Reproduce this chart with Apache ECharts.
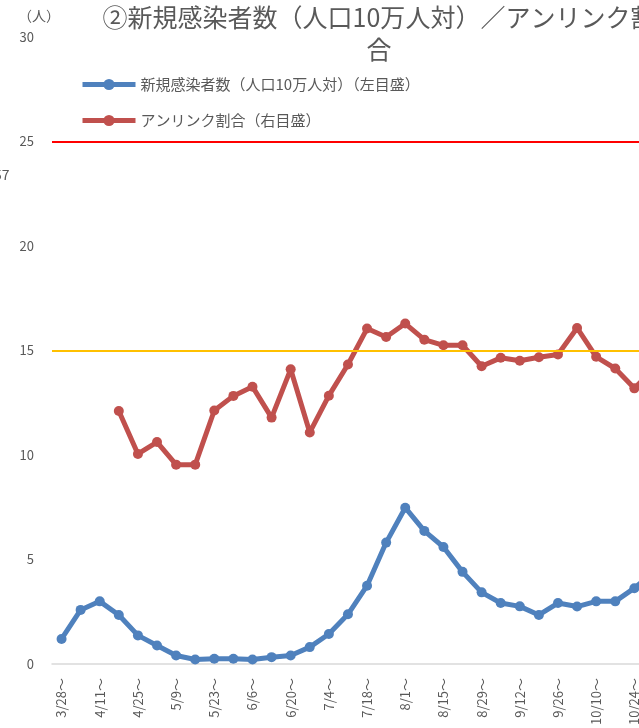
<!DOCTYPE html>
<html>
<head>
<meta charset="utf-8">
<script src="https://cdn.jsdelivr.net/npm/echarts@6/dist/echarts.min.js"></script>
<style>
html,body{margin:0;padding:0;background:#fff;overflow:hidden;width:639px;height:728px;}
#c{width:700px;height:728px;}
</style>
</head>
<body>
<div id="c"></div>
<script>
const categories = ['3/28～','4/4～','4/11～','4/18～','4/25～','5/2～','5/9～','5/16～','5/23～','5/30～','6/6～','6/13～','6/20～','6/27～','7/4～','7/11～','7/18～','7/25～','8/1～','8/8～','8/15～','8/22～','8/29～','9/5～','9/12～','9/19～','9/26～','10/3～','10/10～','10/17～','10/24～','10/31～'];
const newCases = [1.2,2.59,3.0,2.35,1.37,0.89,0.41,0.22,0.25,0.25,0.22,0.33,0.41,0.81,1.44,2.38,3.75,5.81,7.48,6.37,5.6,4.41,3.43,2.92,2.76,2.35,2.92,2.75,3.0,3.0,3.63,4.4];
const unlinkedRatio = [null,null,null,12.11,10.05,10.62,9.54,9.54,12.13,12.83,13.27,11.79,14.1,11.08,12.84,14.33,16.05,15.65,16.29,15.52,15.25,15.25,14.25,14.65,14.51,14.68,14.81,16.08,14.7,14.14,13.19,14.1];
const leftTicks = {min:0, max:30, interval:5};
const thresholds = [25, 15];
const seriesNames = ['新規感染者数（人口10万人対）（左目盛）','アンリンク割合（右目盛）'];
const titleText = '②新規感染者数（人口10万人対）／アンリンク割\n合';

const FONT = "'Noto Sans CJK JP', sans-serif";
const GRAY = '#595959';
const chart = echarts.init(document.getElementById('c'), null, {renderer:'canvas', width:700, height:728});
chart.setOption({
  animation:false,
  backgroundColor:'#fff',
  title:{
    text:titleText,
    left:374, top:-4, textAlign:'center',
    textStyle:{fontFamily:FONT, fontSize:25, fontWeight:'normal', color:GRAY, lineHeight:32}
  },
  legend:{
    orient:'vertical', left:75, top:72, itemGap:21,
    itemWidth:53, itemHeight:14,
    lineStyle:{width:5},
    textStyle:{fontFamily:FONT, fontSize:15, color:GRAY},
    data:seriesNames
  },
  graphic:[{type:'text', left:-6, top:168, style:{text:'57', font:"14px 'Noto Sans CJK JP'", fill:GRAY}}],
  grid:{left:52, width:611, top:37, height:630, containLabel:false},
  xAxis:{
    type:'category', data:categories, boundaryGap:true,
    axisLine:{lineStyle:{color:'#d9d9d9', width:1.5}},
    axisTick:{show:false},
    axisLabel:{rotate:90, interval:1, margin:14, fontFamily:FONT, fontSize:13, color:GRAY}
  },
  yAxis:[{
    type:'value', min:leftTicks.min, max:leftTicks.max, interval:leftTicks.interval,
    name:'（人）', nameLocation:'end', nameGap:14,
    nameTextStyle:{fontFamily:FONT, fontSize:14, color:GRAY, align:'right', padding:[0,-8,0,0]},
    axisLine:{show:false}, axisTick:{show:false}, splitLine:{show:false},
    axisLabel:{margin:18, fontFamily:FONT, fontSize:13, color:GRAY}
  },{
    type:'value', min:0, max:30, interval:5, show:false, splitLine:{show:false}
  }],
  series:[{
    name:seriesNames[0], type:'line', data:newCases, yAxisIndex:0,
    symbol:'circle', symbolSize:10,
    lineStyle:{color:'#4f81bd', width:5}, itemStyle:{color:'#4f81bd'},
    markLine:{
      silent:true, symbol:'none', label:{show:false},
      data:[
        {yAxis:thresholds[0], lineStyle:{color:'#ff0000', width:2, type:'solid'}},
        {yAxis:thresholds[1], lineStyle:{color:'#ffc000', width:2, type:'solid'}}
      ]
    }
  },{
    name:seriesNames[1], type:'line', data:unlinkedRatio, yAxisIndex:1,
    symbol:'circle', symbolSize:10, connectNulls:false,
    lineStyle:{color:'#c0504d', width:5}, itemStyle:{color:'#c0504d'}
  }]
});
</script>
</body>
</html>
